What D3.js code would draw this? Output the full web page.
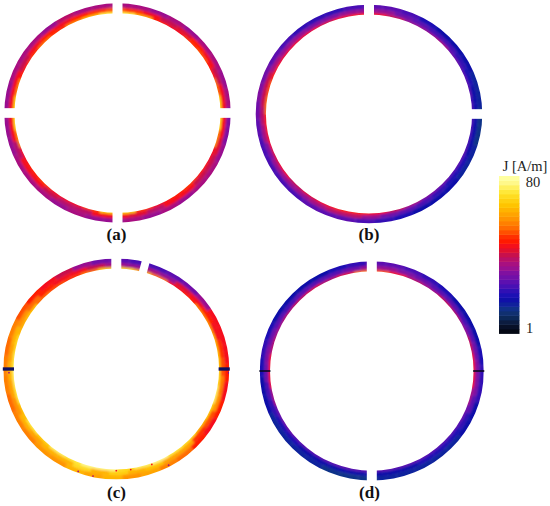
<!DOCTYPE html>
<html><head><meta charset="utf-8">
<script src="https://cdn.jsdelivr.net/npm/d3@7"></script>
<style>html,body{margin:0;padding:0;background:#fff}svg{display:block}</style>
</head><body><div id="c"></div>
<script>
// colour-bar steps, low to high
const ramp=["#040814","#081028","#0c1c40","#0c2858","#103070","#103088","#10209c","#1010a8","#1c10b4","#3010b4","#4810b4","#5c10b0","#7010a8","#8010a0","#981090","#a81080","#b81068","#c8104c","#e01030","#f5101a","#ff1a00","#ff3000","#ff5000","#ff6c00","#ff8000","#ff9400","#ffa400","#ffb400","#ffc400","#ffd010","#ffdc20","#ffe83a","#fff060","#fff88a","#ffffa0"];
const tickLabels=["1","80"];
const domainJ=[1,80];
// angular samples, clockwise from the top, every 10 degrees (J in A/m)
const aInner=[72,60,48,46,50,52,47,54,68,70,56,45,47,50,47,44,50,66,66,50,44,45,50,48,45,56,70,68,56,47,50,54,50,56,62,72];
const aMid=[50,46,40,42,47,46,40,44,46,46,42,40,40,44,46,38,42,46,46,38,38,40,46,44,38,44,46,46,44,40,44,48,46,48,50,52];
const aOuter=[36,33,35,33,36,37,34,35,32,31,34,35,36,33,37,33,35,34,33,35,33,37,36,35,33,33,33,34,35,37,36,34,38,36,37,35];
const bInner=[46,40,34,34,35,30,28,26,24,24,24,26,28,30,32,36,40,46,48,48,46,42,40,44,42,46,48,54,52,48,46,46,46,42,44,48];
const bMid=[34,30,27,25,24,22,20,19,18,18,19,20,20,22,24,28,30,34,38,38,36,34,34,34,32,36,38,40,40,36,34,34,32,32,34,34];
const bOuter=[27,25,21,19,18,17,16,15,14,14,15,16,17,18,19,20,22,24,27,27,27,25,25,25,25,27,29,31,29,27,25,23,23,23,25,27];
const cInner=[68,60,54,46,48,56,58,62,66,70,74,68,64,70,72,76,74,70,76,76,72,74,68,72,66,72,74,72,70,64,66,54,52,50,54,66];
const cMid=[34,36,34,42,46,48,46,50,52,56,58,52,50,60,60,66,62,68,64,70,62,62,60,64,58,60,62,60,62,58,54,48,46,44,40,36];
const cOuter=[25,25,27,30,34,44,46,46,48,46,48,46,48,54,56,60,58,64,60,64,58,58,56,56,54,56,56,54,56,52,48,46,40,34,30,27];
const dInner=[52,46,38,36,40,38,34,40,44,46,36,30,28,28,26,26,28,28,26,26,28,28,28,30,30,36,44,46,38,36,38,40,42,38,42,54];
const dMid=[33,32,30,28,26,24,26,30,32,32,28,23,21,20,20,19,19,18,18,18,19,19,20,21,23,25,30,32,30,28,25,28,28,28,30,33];
const dOuter=[26,24,22,20,18,18,19,21,23,23,19,17,16,15,15,15,15,14,14,14,15,15,15,16,17,19,21,23,21,19,18,19,19,21,23,26];
const panelNames=["(a)","(b)","(c)","(d)"];
const panelCx=[117.5,369,116.3,371.8];
const panelCy=[113,114,369,371];
const panelRx=[113.2,113.3,113,112];
const panelRy=[109.7,109.3,110.5,109.7];
const panelValues=[[aInner,aMid,aOuter],[bInner,bMid,bOuter],[cInner,cMid,cOuter],[dInner,dMid,dOuter]];
// gaps: [angle clockwise from top, width px]
const panelGaps=[[[0,10],[90,10],[180,10],[270,10]],[[0,10],[90,10]],[[0,10],[15,8]],[[0,10],[180,10]]];
// thin dark joints: [angle, thickness, colour]
const panelJoints=[[],[],[[90,3.4,"#101060"],[270,3.4,"#101060"]],[[90,1.6,"#080820"],[270,1.6,"#080820"]]];
// small hot spots in (c): [angle, radial fraction, J]
const cSpecAngle=[180,172,160,152,192,200,268,92];
const cSpecRadial=[.12,.1,.1,.85,.9,.85,.45,.95];
const cSpecValue=[46,44,44,36,38,36,36,30];
const labelY=[240,240,498,498];
const labelX=[116.5,369,116.5,369.5];

const W=550,H=506,ringW=10.2;
const svg=d3.select("#c").append("svg").attr("width",W).attr("height",H);
const defs=svg.append("defs");
defs.append("filter").attr("id","soft").attr("x","-5%").attr("y","-5%").attr("width","110%").attr("height","110%")
  .append("feGaussianBlur").attr("stdDeviation",.9);
const color=d3.scaleQuantize().domain(domainJ).range(ramp);
const bands=[[0,.17],[.17,.58],[.58,1]];
const binOffset=[0,4,7];
const angle=d3.scaleLinear().domain([0,36]).range([0,2*Math.PI]);
const arc=d3.arc();

panelNames.forEach((name,p)=>{
  const rx=panelRx[p],ry=panelRy[p];
  const g=svg.append("g").attr("transform",`translate(${panelCx[p]},${panelCy[p]}) scale(1,${ry/rx})`);
  const radial=d3.scaleLinear().domain([0,1]).range([rx-ringW,rx]);
  defs.append("clipPath").attr("id","ring"+p).append("path")
    .attr("d",arc({innerRadius:rx-ringW,outerRadius:rx,startAngle:0,endAngle:2*Math.PI}));
  const inner=g.append("g").attr("clip-path",`url(#ring${p})`).append("g").attr("filter","url(#soft)");
  panelValues[p].forEach((vals,l)=>{
    const off=binOffset[l]/10;
    inner.append("g").selectAll("path").data(vals).join("path")
      .attr("fill",d=>color(d))
      .attr("stroke",d=>color(d)).attr("stroke-width",.4)
      .attr("d",(d,i)=>arc({
        innerRadius:l===0?radial(bands[l][0])-4:radial(bands[l][0]),
        outerRadius:l===2?radial(bands[l][1])+4:radial(bands[l][1]),
        startAngle:angle(i+off),endAngle:angle(i+1+off)}));
  });
  if(p===2){
    g.append("g").attr("clip-path",`url(#ring${p})`).selectAll("circle").data(cSpecValue).join("circle")
      .attr("r",.9).attr("fill",d=>color(d))
      .attr("cx",(d,i)=>radial(cSpecRadial[i])*Math.sin(cSpecAngle[i]*Math.PI/180))
      .attr("cy",(d,i)=>-radial(cSpecRadial[i])*Math.cos(cSpecAngle[i]*Math.PI/180));
  }
  panelJoints[p].forEach(([a,t,c])=>{
    g.append("rect").attr("x",rx-ringW-.5).attr("y",-t/2).attr("width",ringW+1).attr("height",t).attr("fill",c)
      .attr("transform",`rotate(${a-90})`);
  });
  panelGaps[p].forEach(([a,w])=>{
    g.append("rect").attr("x",-w/2).attr("y",-rx-4).attr("width",w).attr("height",ringW+8).attr("fill","#fff")
      .attr("transform",`rotate(${a})`);
  });
  svg.append("text").attr("x",labelX[p]).attr("y",labelY[p]).attr("text-anchor","middle")
    .attr("font-family","'Liberation Serif',serif").attr("font-weight","bold").attr("font-size",17).attr("fill","#111").text(name);
});

// colour bar
const barY=d3.scaleBand().domain(d3.range(ramp.length)).range([333.5,176]);
const bar=svg.append("g");
bar.selectAll("rect").data(ramp).join("rect")
  .attr("x",499).attr("width",20.5).attr("y",(d,i)=>barY(i)).attr("height",barY.bandwidth()+.4).attr("fill",d=>d);
const txt=(x,y,s,a)=>svg.append("text").attr("x",x).attr("y",y).attr("text-anchor",a)
  .attr("font-family","'Liberation Serif',serif").attr("font-size",14.5).attr("fill","#222").text(s);
txt(525,171,"J [A/m]","middle");
txt(533,186.5,tickLabels[1],"middle");
txt(529.5,333,tickLabels[0],"middle");
</script></body></html>
